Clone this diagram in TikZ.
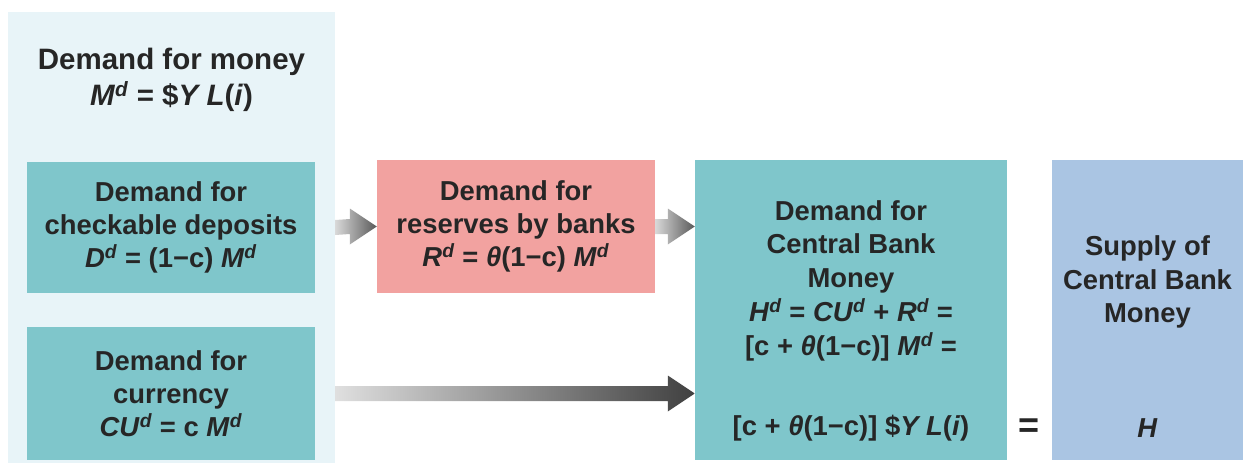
\documentclass[tikz,border=0pt]{standalone}
\usepackage{fontspec}
\setmainfont{Liberation Sans}
\usepackage{xcolor}
\usepackage{tikz}
\usetikzlibrary{positioning,calc}

\definecolor{panelblue}{RGB}{232,244,248}
\definecolor{tealbox}{RGB}{127,198,203}
\definecolor{pinkbox}{RGB}{242,162,160}
\definecolor{supplyblue}{RGB}{170,197,227}
\definecolor{ink}{RGB}{38,38,38}

% variable with superscript d
\newcommand{\vard}[1]{\textit{#1}\textsuperscript{\textit{d}}}
% shaded block arrow from #1 to #2
\newcommand{\fatarrow}[4]{%
  \shade[left color=#3, right color=#4]
    ($(#1)+(0,-7.5)$) -- ($(#2)+(-27,-7.5)$) -- ($(#2)+(-27,-18)$) -- (#2)
    -- ($(#2)+(-27,18)$) -- ($(#2)+(-27,7.5)$) -- ($(#1)+(0,7.5)$) -- cycle;}

\tikzset{
  box/.style={inner sep=0pt, align=center, text=ink,
    font=\fontsize{27.4}{33}\selectfont\bfseries},
  boxtext/.style={inner sep=0pt, align=center, text=ink,
    font=\fontsize{27.4}{33.75}\selectfont\bfseries},
}

\begin{document}
\begin{tikzpicture}[x=1pt,y=-1pt]
    \useasboundingbox (0,0) rectangle (1252,468);

    % Demand side
    \node[fill=panelblue, minimum width=327, minimum height=451, inner sep=0pt] (panel) at (171.5,237.5) {};
    \node[boxtext, font=\fontsize{29.5}{36}\selectfont\bfseries] (money) at (171.5,80)
        {Demand for money\\\vard{M} = \$\textit{Y L}(\textit{i})};
    \node[box, fill=tealbox, minimum width=288, minimum height=131] (dep) at (171,227.5)
        {Demand for\\checkable deposits\\\vard{D} = (1−c) \vard{M}};
    \node[box, fill=tealbox, minimum width=288, minimum height=133] (cur) at (171,393.5)
        {Demand for\\currency\\\vard{CU} = c \vard{M}};
    \node[box, fill=pinkbox, minimum width=278, minimum height=133] (res) at (516,226.5)
        {Demand for\\reserves by banks\\\vard{R} = \textit{θ}(1−c) \vard{M}};

    % Central bank money
    \node[fill=tealbox, minimum width=312, minimum height=300, inner sep=0pt] (cbm) at (851,310) {};
    \node[boxtext] (cbmtxt) at (851,280.5)
        {Demand for\\Central Bank\\Money\\\vard{H} = \vard{CU} + \vard{R} =\\{}[c + \textit{θ}(1−c)] \vard{M} =};
    \node[boxtext] (cbmeq) at (851,428) {[c + \textit{θ}(1−c)] \$\textit{Y L}(\textit{i})};
    \node[fill=supplyblue, minimum width=191, minimum height=300, inner sep=0pt] (sup) at (1147.5,310) {};
    \node[boxtext] (suptxt) at (1147.5,282) {Supply of\\Central Bank\\Money};
    \node[boxtext] (h) at (1147.5,428) {\textit{H}};
    \node[boxtext, font=\fontsize{36}{36}\selectfont\bfseries] (eq) at (1029,428) {=};

    % Arrows
    \coordinate (a1) at (panel.east |- dep.east);
    \coordinate (a2) at (cbm.west |- res.east);
    \coordinate (a3s) at (panel.east |- cur.east);
    \coordinate (a3e) at (cbm.west |- cur.east);
    \fatarrow{a1}{res.west}{gray!30}{black!65}
    \fatarrow{res.east}{a2}{gray!30}{black!65}
    \fatarrow{a3s}{a3e}{gray!25}{black!75}
\end{tikzpicture}
\end{document}
